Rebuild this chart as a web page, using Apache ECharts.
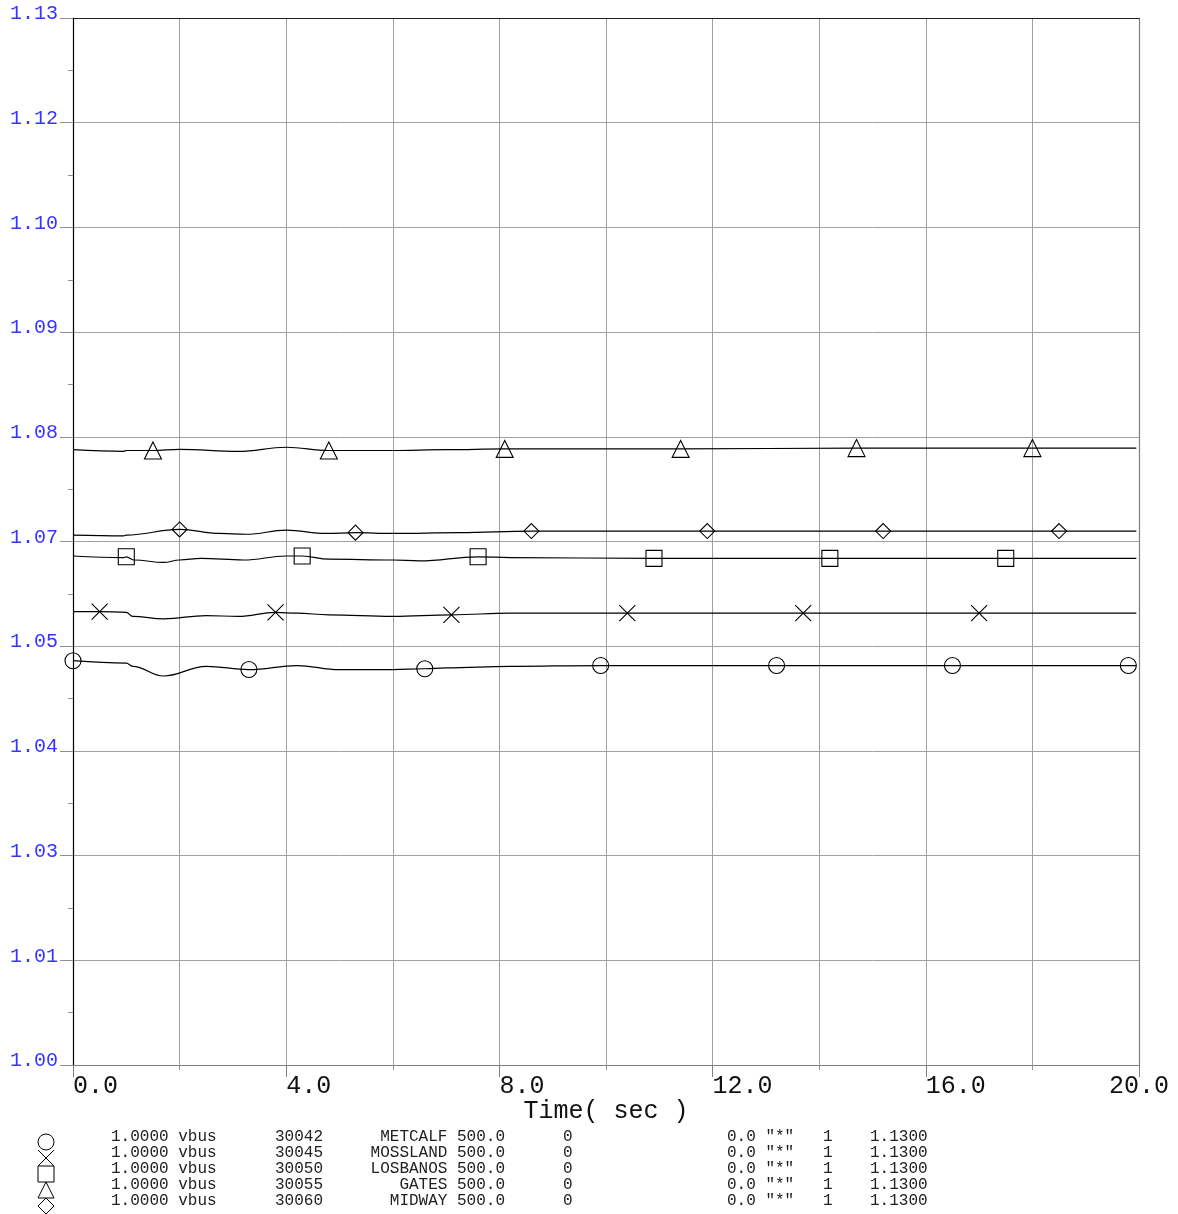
<!DOCTYPE html>
<html><head><meta charset="utf-8">
<script src="https://cdn.jsdelivr.net/npm/echarts@6/dist/echarts.min.js"></script>
<style>html,body{margin:0;padding:0;background:#fff}#c{width:1178px;height:1214px}</style>
</head><body><div id="c"></div>
<script>
// ---------- data ----------
const yBase = 1.0;
const yStep = 0.013;
const yTickLabels = ['1.00','1.01','1.03','1.04','1.05','1.07','1.08','1.09','1.10','1.12','1.13'];
const xTickLabels = ['0.0','4.0','8.0','12.0','16.0','20.0'];

const metcalfT = [0, 1.0, 1.12, 1.7, 2.5, 3.3, 4.2, 5.0, 6.0, 6.6, 7.0, 8.2, 9.9, 13.2, 16.5, 19.8, 19.95];
const metcalfV = [1.0502, 1.0499, 1.0495, 1.0483, 1.0495, 1.0491, 1.0496, 1.0491, 1.0491, 1.0492, 1.0493, 1.0495, 1.0496, 1.0496, 1.0496, 1.0496, 1.0496];
const metcalfMarks = [0, 3.3, 6.6, 9.9, 13.2, 16.5, 19.8];

const mosslandT = [0, 0.5, 1.0, 1.12, 1.7, 2.5, 3.1, 3.8, 4.2, 4.8, 6.0, 7.1, 8.2, 10.4, 13.7, 17.0, 19.95];
const mosslandV = [1.0563, 1.0563, 1.0562, 1.0557, 1.0554, 1.0558, 1.0557, 1.0562, 1.0561, 1.0559, 1.0557, 1.0559, 1.0561, 1.0561, 1.0561, 1.0561, 1.0561];
const mosslandMarks = [0.5, 3.8, 7.1, 10.4, 13.7, 17.0];

const losbanosT = [0, 0.95, 1.0, 1.15, 1.7, 2.0, 2.4, 3.2, 4.0, 4.3, 4.8, 6.0, 6.5, 7.6, 8.2, 10.9, 14.2, 17.5, 19.95];
const losbanosV = [1.0632, 1.0630, 1.0631, 1.0627, 1.0624, 1.0627, 1.0629, 1.0627, 1.0632, 1.0632, 1.0628, 1.0627, 1.0626, 1.0631, 1.0630, 1.0629, 1.0629, 1.0629, 1.0629];
const losbanosMarks = [1.0, 4.3, 7.6, 10.9, 14.2, 17.5];

const gatesT = [0, 0.95, 1.0, 1.5, 2.0, 3.1, 4.0, 4.8, 6.0, 7.0, 8.1, 11.4, 14.7, 18.0, 19.95];
const gatesV = [1.0764, 1.0762, 1.0763, 1.0763, 1.07645, 1.0762, 1.0767, 1.0763, 1.0763, 1.0764, 1.0765, 1.0765, 1.0766, 1.0766, 1.0766];
const gatesMarks = [1.5, 4.8, 8.1, 11.4, 14.7, 18.0];

const midwayT = [0, 0.95, 1.0, 2.0, 2.75, 3.25, 4.0, 4.75, 5.3, 6.0, 7.25, 8.6, 11.9, 15.2, 18.5, 19.95];
const midwayV = [1.0658, 1.0657, 1.0658, 1.0665, 1.0660, 1.0659, 1.0664, 1.0660, 1.0661, 1.0660, 1.0661, 1.0663, 1.0663, 1.0663, 1.0663, 1.0663];
const midwayMarks = [2.0, 5.3, 8.6, 11.9, 15.2, 18.5];

// legend table text
const legScale = ['1.0000','1.0000','1.0000','1.0000','1.0000'];
const legVar = ['vbus','vbus','vbus','vbus','vbus'];
const legBus = ['30042','30045','30050','30055','30060'];
const legName = ['METCALF','MOSSLAND','LOSBANOS','GATES','MIDWAY'];
const legKv = ['500.0','500.0','500.0','500.0','500.0'];
const legId = ['0','0','0','0','0'];
const legOff = ['0.0','0.0','0.0','0.0','0.0'];
const legCkt = ['"*"','"*"','"*"','"*"','"*"'];
const legSect = ['1','1','1','1','1'];
const legMax = ['1.1300','1.1300','1.1300','1.1300','1.1300'];

// ---------- chart ----------
const FONT = '"Liberation Mono", "DejaVu Sans Mono", monospace';
const GRID_C = '#a0a0a0';
const SYM = {
  circle: 'circle',
  cross: 'path://M0,0L10,10M10,0L0,10',
  square: 'rect',
  triangle: 'triangle',
  diamond: 'diamond'
};

function buildSeries(name, ts, vs, marks, symbol, size) {
  const data = ts.map((t, i) => ({
    value: [t, vs[i] - yBase],
    symbol: marks.indexOf(t) >= 0 ? symbol : 'none',
    symbolSize: size
  }));
  return {
    type: 'line', name: name, data: data,
    smooth: 0.4, smoothMonotone: 'x',
    symbol: symbol, symbolSize: size,
    showSymbol: true, showAllSymbol: true,
    lineStyle: { color: '#000', width: 1.2 },
    itemStyle: { color: 'rgba(0,0,0,0)', borderColor: '#000', borderWidth: 1.1 },
    emphasis: { disabled: true },
    silent: true, z: 3
  };
}

const series = [
  buildSeries('METCALF', metcalfT, metcalfV, metcalfMarks, SYM.circle, 16),
  buildSeries('MOSSLAND', mosslandT, mosslandV, mosslandMarks, SYM.cross, 16),
  buildSeries('LOSBANOS', losbanosT, losbanosV, losbanosMarks, SYM.square, 16),
  buildSeries('GATES', gatesT, gatesV, gatesMarks, SYM.triangle, 17),
  buildSeries('MIDWAY', midwayT, midwayV, midwayMarks, SYM.diamond, 15)
];

// legend graphics
const legRowY = [1137, 1153, 1169, 1185, 1201];
const graphics = [];
const stroke = { stroke: '#000', fill: 'none', lineWidth: 1 };
graphics.push({ type: 'circle', shape: { cx: 46, cy: 1142, r: 8 }, style: stroke });
graphics.push({ type: 'polyline', shape: { points: [[38, 1150], [54, 1166]] }, style: stroke });
graphics.push({ type: 'polyline', shape: { points: [[54, 1150], [38, 1166]] }, style: stroke });
graphics.push({ type: 'rect', shape: { x: 38, y: 1166, width: 16, height: 16 }, style: stroke });
graphics.push({ type: 'polygon', shape: { points: [[46, 1182], [54, 1198], [38, 1198]] }, style: stroke });
graphics.push({ type: 'polygon', shape: { points: [[46, 1198], [54, 1206], [46, 1214], [38, 1206]] }, style: stroke });

function txt(x, y, s, align) {
  return { type: 'text', x: x, y: y, style: { text: s, font: '16px ' + FONT, fill: '#222', align: align || 'left', verticalAlign: 'middle' } };
}
for (let i = 0; i < 5; i++) {
  const y = legRowY[i];
  graphics.push(txt(111, y, legScale[i] + ' ' + legVar[i]));
  graphics.push(txt(275, y, legBus[i]));
  graphics.push(txt(505, y, legName[i] + ' ' + legKv[i], 'right'));
  graphics.push(txt(563, y, legId[i]));
  graphics.push(txt(727, y, legOff[i] + ' ' + legCkt[i]));
  graphics.push(txt(823, y, legSect[i]));
  graphics.push(txt(870, y, legMax[i]));
}

const option = {
  animation: false,
  backgroundColor: '#fff',
  grid: { left: 73, right: 39, top: 18, bottom: 149, containLabel: false, outerBoundsMode: 'none' },
  xAxis: [{
    type: 'value', min: 0, max: 20, interval: 4,
    name: 'Time( sec )', nameLocation: 'middle', nameGap: 34, nameMoveOverlap: false,
    nameTextStyle: { fontFamily: FONT, fontSize: 25, color: '#111', verticalAlign: 'top' },
    axisLine: { show: true, onZero: false, lineStyle: { color: '#808080', width: 1.2 } },
    axisTick: { show: true, length: 12, lineStyle: { color: '#808080' } },
    minorTick: { show: true, splitNumber: 2, length: 5, lineStyle: { color: '#909090' } },
    splitLine: { show: true, lineStyle: { color: GRID_C, width: 1 } },
    minorSplitLine: { show: true, lineStyle: { color: GRID_C, width: 1 } },
    axisLabel: {
      show: true, margin: 9, align: 'left', alignMaxLabel: 'center',
      fontFamily: FONT, fontSize: 25, color: '#111',
      formatter: v => xTickLabels[Math.round(v / 4)]
    }
  }, {
    type: 'value', min: 0, max: 20, position: 'top',
    axisLine: { show: true, onZero: false, lineStyle: { color: '#222', width: 1.2 } },
    axisTick: { show: false }, axisLabel: { show: false }, splitLine: { show: false }
  }],
  yAxis: [{
    type: 'value', min: 0, max: 0.13, interval: yStep,
    axisLine: { show: true, onZero: false, lineStyle: { color: '#000', width: 1.2 } },
    axisTick: { show: true, length: 13, lineStyle: { color: '#909090' } },
    minorTick: { show: true, splitNumber: 2, length: 5, lineStyle: { color: '#909090' } },
    splitLine: { show: true, lineStyle: { color: GRID_C, width: 1 } },
    axisLabel: {
      show: true, margin: 63, align: 'left', verticalAlign: 'bottom', lineHeight: 8,
      fontFamily: FONT, fontSize: 20, color: '#3535ff',
      formatter: v => yTickLabels[Math.round(v / yStep)]
    }
  }, {
    type: 'value', min: 0, max: 0.13, position: 'right',
    axisLine: { show: true, onZero: false, lineStyle: { color: '#808080', width: 1.2 } },
    axisTick: { show: false }, axisLabel: { show: false }, splitLine: { show: false }
  }],
  series: series,
  graphic: graphics
};

const chart = echarts.init(document.getElementById('c'), null, { renderer: 'canvas' });
chart.setOption(option);
</script>
</body></html>
